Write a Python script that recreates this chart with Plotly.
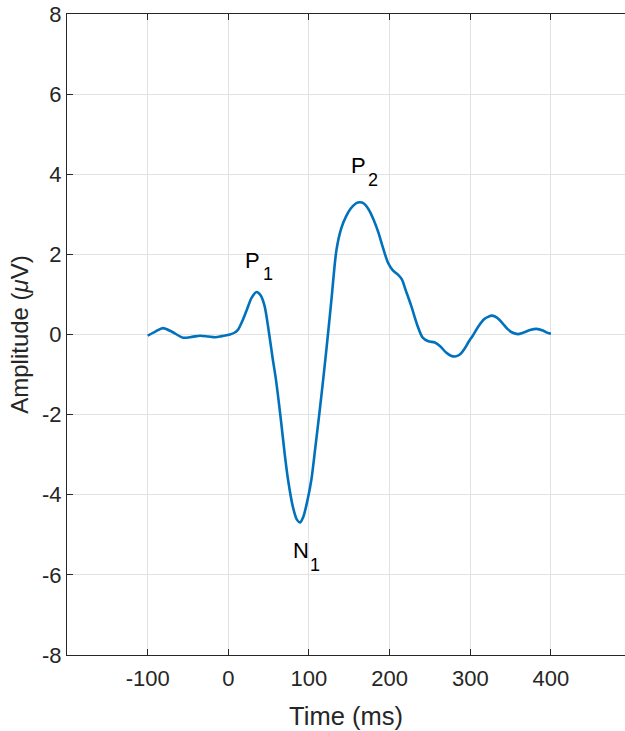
import plotly.graph_objects as go

# Data
time_ms = [-100, -90, -81, -70, -56, -45, -35, -25, -16, -8, 2, 8, 12, 17, 23, 29, 35, 40, 45, 50,
           55, 59, 65, 70, 74, 80, 85, 89, 93, 98, 103, 108, 113, 118, 123, 128, 134, 140, 146, 152,
           158, 163, 168, 174, 180, 186, 192, 198, 204, 210, 215, 220, 227, 234, 241, 248, 256, 263,
           270, 276, 281, 287, 293, 298, 303, 310, 317, 322, 327, 333, 340, 346, 352, 359, 366, 374,
           382, 390, 396, 400]
amplitude_uv = [-0.03, 0.08, 0.16, 0.07, -0.08, -0.06, -0.03, -0.05, -0.07, -0.04, 0.0, 0.05, 0.12,
                0.32, 0.62, 0.92, 1.06, 0.98, 0.71, 0.1, -0.6, -1.12, -2.1, -3.0, -3.62, -4.3, -4.62,
                -4.69, -4.55, -4.15, -3.62, -2.8, -1.95, -1.05, -0.1, 0.9, 2.1, 2.65, 2.95, 3.15, 3.27,
                3.3, 3.27, 3.12, 2.87, 2.55, 2.15, 1.79, 1.6, 1.5, 1.38, 1.1, 0.7, 0.25, -0.08, -0.17,
                -0.2, -0.3, -0.45, -0.53, -0.55, -0.5, -0.35, -0.18, -0.03, 0.2, 0.38, 0.44, 0.47,
                0.42, 0.28, 0.14, 0.05, 0.01, 0.05, 0.11, 0.14, 0.1, 0.04, 0.02]

x_ticks = [-100, 0, 100, 200, 300, 400]
x_tick_labels = ["-100", "0", "100", "200", "300", "400"]
y_ticks = [-8, -6, -4, -2, 0, 2, 4, 6, 8]
y_tick_labels = ["-8", "-6", "-4", "-2", "0", "2", "4", "6", "8"]

# Peak labels: letter and subscript
peak_letters = ["P", "N", "P"]
peak_letter_x = [30.0, 89.5, 161.2]
peak_letter_y = [1.85, -5.40, 4.22]
peak_subs = ["1", "1", "2"]
peak_sub_x = [49.8, 107.5, 179.4]
peak_sub_y = [1.51, -5.75, 3.86]

FONT = "Liberation Sans, Arial, Helvetica, sans-serif"
AX = "#262626"

fig = go.Figure()
fig.add_trace(go.Scatter(x=time_ms, y=amplitude_uv, mode="lines",
                         line=dict(color="#0072BD", width=2.6, shape="spline", smoothing=0.8),
                         showlegend=False, hoverinfo="skip"))

for txt, xv, yv in zip(peak_letters, peak_letter_x, peak_letter_y):
    fig.add_annotation(x=xv, y=yv, text=txt, showarrow=False, xanchor="center", yanchor="middle",
                       font=dict(family=FONT, size=22, color="black"))
for txt, xv, yv in zip(peak_subs, peak_sub_x, peak_sub_y):
    fig.add_annotation(x=xv, y=yv, text=txt, showarrow=False, xanchor="center", yanchor="middle",
                       font=dict(family=FONT, size=18, color="black"))

fig.update_layout(
    width=625, height=731,
    margin=dict(l=67, r=0, t=14, b=76),
    paper_bgcolor="white", plot_bgcolor="white",
    font=dict(family=FONT, color=AX),
    xaxis=dict(range=[-200, 491.8], tickvals=x_ticks, ticktext=x_tick_labels,
               showgrid=True, gridcolor="#e2e2e2", gridwidth=1, zeroline=False,
               showline=True, linecolor=AX, linewidth=1.2, mirror="ticks",
               ticks="inside", ticklen=6, tickcolor=AX, tickwidth=1.2,
               tickfont=dict(size=22, color=AX, family=FONT), ticklabelstandoff=3,
               title=dict(text="Time (ms)", font=dict(size=25.5, color=AX, family=FONT), standoff=17)),
    yaxis=dict(range=[-8, 8], tickvals=y_ticks, ticktext=y_tick_labels,
               showgrid=True, gridcolor="#e2e2e2", gridwidth=1, zeroline=False,
               showline=True, linecolor=AX, linewidth=1.2, mirror=False,
               ticks="inside", ticklen=6, tickcolor=AX, tickwidth=1.2,
               tickfont=dict(size=22, color=AX, family=FONT),
               title=dict(text="Amplitude (<i>μ</i>V)", font=dict(size=24, color=AX, family=FONT), standoff=6)),
)

fig.write_html("out.html")
